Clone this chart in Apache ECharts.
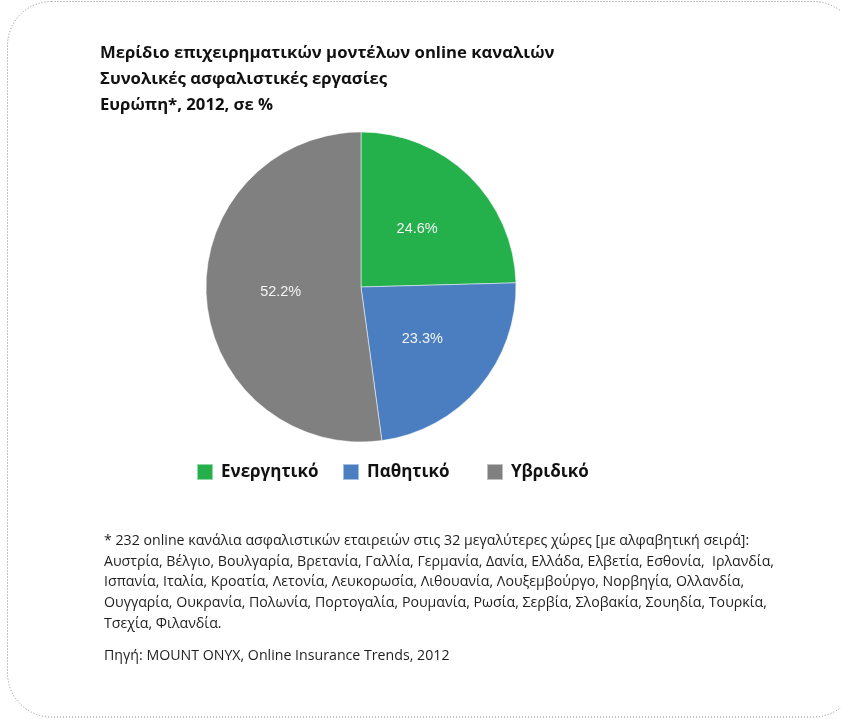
<!DOCTYPE html>
<html>
<head>
<meta charset="utf-8">
<script src="https://cdn.jsdelivr.net/npm/echarts@6/dist/echarts.min.js"></script>
<style>
  html, body { margin: 0; padding: 0; background: #ffffff; }
  #chart { width: 841px; height: 719px; }
</style>
</head>
<body>
<div id="chart"></div>
<script>
// Share of online business models, Europe 2012 (%)
const categories = ['Ενεργητικό', 'Παθητικό', 'Υβριδικό'];
const shares = [24.6, 23.3, 52.2];
const colors = ['#24b14c', '#4a7ec0', '#808080'];

const titleLines = [
  'Μερίδιο επιχειρηματικών μοντέλων online καναλιών',
  'Συνολικές ασφαλιστικές εργασίες',
  'Ευρώπη*, 2012, σε %'
];

const noteLines = [
  '* 232 online κανάλια ασφαλιστικών εταιρειών στις 32 μεγαλύτερες χώρες [με αλφαβητική σειρά]:',
  'Αυστρία, Βέλγιο, Βουλγαρία, Βρετανία, Γαλλία, Γερμανία, Δανία, Ελλάδα, Ελβετία, Εσθονία,  Ιρλανδία,',
  'Ισπανία, Ιταλία, Κροατία, Λετονία, Λευκορωσία, Λιθουανία, Λουξεμβούργο, Νορβηγία, Ολλανδία,',
  'Ουγγαρία, Ουκρανία, Πολωνία, Πορτογαλία, Ρουμανία, Ρωσία, Σερβία, Σλοβακία, Σουηδία, Τουρκία,',
  'Τσεχία, Φιλανδία.'
];
const sourceLine = 'Πηγή: MOUNT ONYX, Online Insurance Trends, 2012';

const chart = echarts.init(document.getElementById('chart'), null, { renderer: 'canvas' });

// narrow the footnote text horizontally so its longest line fits the block width
const NOTE_FONT = '15px "Open Sans", sans-serif';
const ctx = document.createElement('canvas').getContext('2d');
ctx.font = NOTE_FONT;
const noteScale = Math.min(1, 670 / ctx.measureText(noteLines[1]).width);

const graphics = [
  {
    type: 'rect',
    silent: true,
    shape: { x: 7.5, y: 1.5, width: 850, height: 715.5, r: 44 },
    style: { fill: 'none', stroke: '#8a8a8a', lineWidth: 1, lineDash: [1, 2] }
  }
];
noteLines.forEach(function (line, i) {
  graphics.push({
    type: 'text',
    silent: true,
    x: 104, y: 541 + i * 20.6,
    scaleX: noteScale,
    style: { text: line, font: NOTE_FONT, fill: '#1e1e1e', textVerticalAlign: 'middle' }
  });
});
graphics.push({
  type: 'text',
  silent: true,
  x: 104, y: 656,
  scaleX: noteScale,
  style: { text: sourceLine, font: NOTE_FONT, fill: '#1e1e1e', textVerticalAlign: 'middle' }
});

const legendLefts = [191, 337, 481];

chart.setOption({
  animation: false,
  backgroundColor: '#ffffff',
  color: colors,
  title: {
    text: titleLines.join('\n'),
    left: 95,
    top: 35,
    textStyle: {
      fontFamily: '"Open Sans", sans-serif',
      fontWeight: 'bold',
      fontSize: 16.7,
      lineHeight: 26,
      color: '#111111'
    }
  },
  legend: categories.map(function (name, i) {
    return {
      data: [name],
      left: legendLefts[i],
      top: 458,
      icon: 'rect',
      itemWidth: 16,
      itemHeight: 16,
      selectedMode: false,
      textStyle: {
        fontFamily: '"Open Sans", sans-serif',
        fontWeight: 'bold',
        fontSize: 17,
        color: '#111111',
        padding: [0, 0, 0, 3]
      }
    };
  }),
  graphic: graphics,
  series: [
    {
      type: 'pie',
      center: [361, 287],
      radius: 155,
      startAngle: 90,
      clockwise: true,
      silent: true,
      itemStyle: { borderColor: 'rgba(255,255,255,0.5)', borderWidth: 1 },
      label: {
        position: 'inside',
        formatter: '{c}%',
        color: '#f4f4f4',
        fontFamily: '"Liberation Sans", Arial, sans-serif',
        fontSize: 14.5
      },
      labelLine: { show: false },
      data: categories.map(function (name, i) {
        return { name: name, value: shares[i] };
      })
    }
  ]
});
</script>
</body>
</html>
